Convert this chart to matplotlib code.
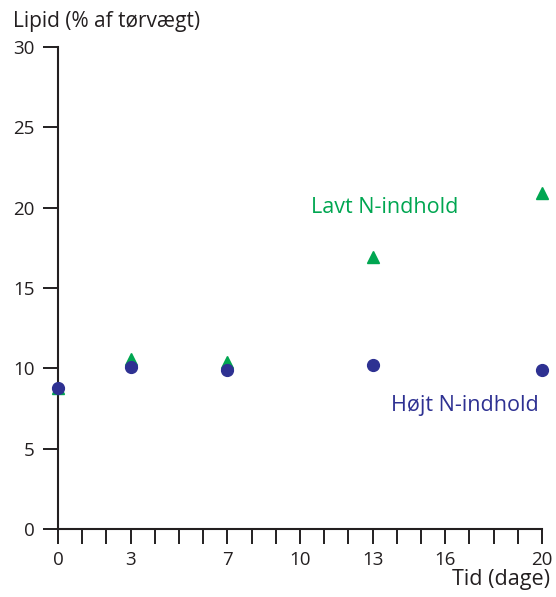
import matplotlib
matplotlib.use("Agg")
import matplotlib.pyplot as plt

days = [0, 3, 7, 13, 20]
lavt_n = [8.8, 10.6, 10.4, 16.9, 20.9]
hojt_n = [8.8, 10.1, 9.9, 10.2, 9.9]
xtick_labels = [0, 3, 7, 10, 13, 16, 20]
ytick_labels = [0, 5, 10, 15, 20, 25, 30]

green = "#00a651"
navy = "#2e3192"
dark = "#231f20"

plt.rcParams['font.family'] = ['Open Sans', 'DejaVu Sans']

fig = plt.figure(figsize=(5.56, 5.97), dpi=100)
ax = fig.add_axes([0.1043, 0.1139, 0.8705, 0.8074])

ax.plot(days, lavt_n, linestyle='none', marker='^', markersize=9, color=green, clip_on=False, zorder=3)
ax.plot(days, hojt_n, linestyle='none', marker='o', markersize=8.5, color=navy, clip_on=False, zorder=4)

ax.set_xlim(0, 20)
ax.set_ylim(0, 30)
ax.set_xticks(xtick_labels)
ax.set_xticks(range(0, 21), minor=True)
ax.set_yticks(ytick_labels)

for s in ['top', 'right']:
    ax.spines[s].set_visible(False)
for s in ['left', 'bottom']:
    ax.spines[s].set_linewidth(1.5)
    ax.spines[s].set_color(dark)

ax.tick_params(axis='x', which='both', direction='out', length=11, width=1.4, color=dark,
               labelsize=13.5, labelcolor=dark, pad=5)
ax.tick_params(axis='y', direction='out', length=11, width=1.4, color=dark,
               labelsize=13.5, labelcolor=dark, pad=6)

ax.text(13.5, 20.0, "Lavt N-indhold", color=green, fontsize=15.5, ha='center', va='center')
ax.text(16.8, 7.7, "Højt N-indhold", color=navy, fontsize=15.5, ha='center', va='center')

fig.text(13/556, 1 - 21/597, "Lipid (% af tørvægt)", color=dark, fontsize=15, ha='left', va='center')
fig.text(550/556, 1 - 580/597, "Tid (dage)", color=dark, fontsize=15.5, ha='right', va='center')

fig.savefig("out.png", dpi=100)
